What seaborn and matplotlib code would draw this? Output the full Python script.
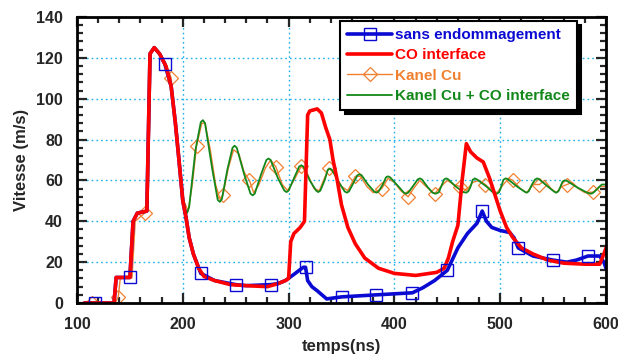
import matplotlib
matplotlib.use('Agg')
import matplotlib.pyplot as plt
from matplotlib.lines import Line2D
from matplotlib.ticker import MultipleLocator
import seaborn as sns

# sans endommagement (blue)
blue_t = [107, 117, 135, 137, 150, 153, 157, 166, 169, 173,
          178, 183, 189, 193, 196, 200, 203, 206, 210, 217,
          230, 250, 260, 283, 290, 297, 301, 305, 310, 314,
          316, 318, 322, 327, 336, 350, 383, 417, 427, 438,
          450, 460, 469, 478, 483, 487, 492, 500, 509, 513,
          517, 531, 550, 563, 572, 583, 594, 598, 600]
blue_v = [0, 0, 0, 12.5, 12.5, 40, 44, 45, 122, 125,
          122, 117, 106, 88, 72, 50, 42, 32, 24, 14.5,
          11, 9, 8.5, 9, 9.5, 11, 12.5, 14, 16, 17.5,
          17.5, 11, 8, 6, 2, 3, 4, 5, 7.5, 11,
          16, 27, 34, 39, 45, 40, 37, 35.5, 34.5, 32,
          27, 23, 21, 20, 21, 23, 23, 20, 17]
blue_marks = [117, 150, 183, 217, 250, 283, 316, 350, 383, 417, 450, 483, 517, 550, 583]

# CO interface (red)
red_t = [107, 135, 137, 150, 153, 157, 166, 169, 173, 178,
         184, 189, 193, 196, 200, 203, 206, 210, 215, 220,
         230, 245, 260, 280, 290, 297, 300, 302, 305, 311,
         315, 318, 320, 327, 331, 335, 339, 342, 346, 350,
         356, 363, 372, 385, 400, 420, 440, 447, 451, 455,
         460, 464, 468, 472, 478, 484, 490, 495, 500, 506,
         512, 520, 531, 545, 560, 580, 594, 598, 600]
red_v = [0, 0, 12.5, 12.5, 40, 44, 45, 122, 125, 122,
         116, 106, 88, 72, 50, 42, 32, 24, 17, 13,
         11, 9, 8.5, 8, 9.5, 11, 12, 30, 34, 37,
         40, 92, 94, 95, 93, 86, 80, 70, 60, 48,
         37, 29, 22, 17, 14.5, 13.5, 15, 17, 22, 30,
         38, 60, 78, 74, 71, 69, 61, 53, 45, 37,
         32, 27, 24, 21, 19.5, 19, 19, 24, 27]

# Kanel Cu (orange)
orange_t = [107, 114, 136, 139, 141, 152, 155, 164, 167, 170,
            174, 179, 185, 189, 193, 197, 201, 205, 209, 213,
            218, 221, 226, 231, 235, 238, 243, 248, 253, 258,
            263, 267, 272, 278, 283, 288, 294, 299, 305, 312,
            318, 324, 329, 333, 338, 344, 350, 356, 363, 368,
            374, 380, 388, 394, 400, 406, 413, 418, 424, 430,
            438, 444, 450, 456, 462, 468, 474, 480, 486, 492,
            497, 503, 508, 512, 519, 525, 531, 537, 542, 548,
            553, 558, 563, 568, 574, 580, 588, 594, 600]
orange_v = [0, 0, 0, 3, 12.5, 12.5, 40, 44, 45, 122,
            125, 122, 116, 110, 88, 70, 50, 45, 58, 77,
            88, 88, 75, 58, 51, 53, 66, 75, 73, 64,
            60, 54, 58, 66, 70, 66.6, 58, 55, 60, 67,
            63, 56, 55, 60, 66, 63, 57, 55, 62, 62,
            57, 54, 56, 61, 59, 55, 52, 56, 60, 57,
            53.5, 57, 60, 58, 57, 55, 59, 60, 58, 55,
            54, 58, 61, 60, 56, 54, 58, 58, 60, 56,
            54, 57, 58, 59, 56, 54, 54.3, 57, 57]
orange_marks = [114, 139, 164, 189, 213, 238, 263, 288, 312, 338,
                363, 388, 413, 438, 462, 486, 512, 537, 563, 588]

# Kanel Cu + CO interface (green)
green_t = [107, 135, 137, 150, 153, 157, 166, 169, 173, 178,
           184, 189, 193, 196, 199, 202, 204, 206, 212, 217,
           219, 221, 228, 233, 235, 237, 242, 247, 249, 251,
           258, 264, 266, 268, 274, 279, 281, 283, 290, 296,
           298, 300, 305, 310, 312, 314, 320, 326, 328, 330,
           334, 337, 339, 341, 347, 353, 355, 357, 361, 365,
           367, 369, 375, 381, 383, 385, 389, 392, 394, 396,
           403, 409, 411, 413, 418, 422, 424, 426, 431, 436,
           439, 442, 445, 447, 449, 451, 458, 465, 468, 470,
           472, 474, 476, 478, 487, 494, 497, 499, 501, 503,
           505, 507, 516, 523, 525, 527, 530, 533, 535, 537,
           545, 551, 553, 555, 557, 559, 561, 563, 573, 583,
           586, 588, 592, 596, 600]
green_v = [0, 0, 12.5, 12.5, 40, 44, 45, 122, 125, 122,
           116, 106, 88, 72, 55, 46, 44, 47, 75, 88.5,
           89.5, 88, 65, 50.5, 49.5, 51, 65, 76, 77, 76,
           63, 53.5, 52.7, 53.5, 63, 70, 70.7, 70, 61, 55,
           54.3, 55, 61, 66.8, 67.4, 66.8, 60, 55, 54.3, 55,
           60, 65.2, 65.8, 65.2, 59.5, 54.6, 54, 54.6, 58.5, 62.5,
           63, 62.5, 58, 54.5, 54, 54.5, 58, 61.5, 62, 61.5,
           57.5, 54, 53.5, 54, 57.5, 60.5, 61, 60.5, 57, 54,
           53.5, 54.2, 58, 60.5, 61, 60.5, 57, 54.3, 54, 54.8,
           57, 60.3, 61, 60.5, 57, 53.8, 53.5, 54.3, 57, 60.3,
           61, 60.7, 57, 54.5, 54, 54.7, 58, 60.5, 61, 60.5,
           57, 54.5, 54, 54.7, 57, 59.5, 60, 59.8, 56.5, 53.8,
           53.5, 54, 56, 58, 58]

labels = ['sans endommagement', 'CO interface', 'Kanel Cu', 'Kanel Cu + CO interface']
c_blue, c_red, c_orange, c_green = '#0a0ad2', '#ff0000', '#f08030', '#12881a'

sns.set_style('ticks')
plt.rcParams['font.family'] = ['Liberation Sans', 'DejaVu Sans']
plt.rcParams['font.weight'] = 'bold'

fig = plt.figure(figsize=(6.18, 3.58), dpi=100)
ax = fig.add_axes([0.1246, 0.1536, 0.856, 0.799])

orange_idx = [i for i, t in enumerate(orange_t) if t in orange_marks]
blue_idx = [i for i, t in enumerate(blue_t) if t in blue_marks]

sns.lineplot(x=orange_t, y=orange_v, ax=ax, estimator=None, sort=False, color=c_orange,
             linewidth=1.0, marker='D', markevery=orange_idx, markersize=7.5,
             markerfacecolor='none', markeredgecolor=c_orange, markeredgewidth=0.9)
sns.lineplot(x=green_t, y=green_v, ax=ax, estimator=None, sort=False, color=c_green, linewidth=1.3)
sns.lineplot(x=blue_t, y=blue_v, ax=ax, estimator=None, sort=False, color=c_blue, linewidth=2.6)
sns.lineplot(x=red_t, y=red_v, ax=ax, estimator=None, sort=False, color=c_red, linewidth=2.6)
# blue squares sit above the red line
sns.lineplot(x=blue_t, y=blue_v, ax=ax, estimator=None, sort=False, color=c_blue, linestyle='none',
             marker='s', markevery=blue_idx, markersize=8.5, markerfacecolor='none',
             markeredgecolor=c_blue, markeredgewidth=1.0)

ax.set_xlim(100, 600)
ax.set_ylim(0, 140)
ax.xaxis.set_major_locator(MultipleLocator(100))
ax.xaxis.set_minor_locator(MultipleLocator(20))
ax.yaxis.set_major_locator(MultipleLocator(20))
ax.yaxis.set_minor_locator(MultipleLocator(4))
ax.grid(True, which='major', color='#1fb0ea', linestyle=(0, (1.2, 2.2)), linewidth=1.0)
ax.set_axisbelow(True)
ax.tick_params(which='both', direction='in', top=True, right=True, width=1.6, labelsize=11.5, pad=10)
ax.tick_params(which='major', length=7)
ax.tick_params(which='minor', length=4)
for s in ax.spines.values():
    s.set_linewidth(2)
    s.set_color('black')

ax.set_xlabel('temps(ns)', fontsize=12, fontweight='bold', labelpad=5)
ax.set_ylabel('Vitesse (m/s)', fontsize=12, fontweight='bold', labelpad=5)

handles = [
    Line2D([], [], color=c_blue, lw=2.6, marker='s', ms=8.5, mfc='none', mec=c_blue, mew=1.0),
    Line2D([], [], color=c_red, lw=2.6),
    Line2D([], [], color=c_orange, lw=1.0, marker='D', ms=7.5, mfc='none', mec=c_orange, mew=0.9),
    Line2D([], [], color=c_green, lw=1.3),
]
leg = ax.legend(handles, labels, loc='upper right', bbox_to_anchor=(577 / 618, 1 - 21 / 358),
                bbox_transform=fig.transFigure, borderaxespad=0,
                labelcolor=[c_blue, c_red, c_orange, c_green], prop={'weight': 'bold', 'size': 11},
                handlelength=2.95, handletextpad=0.2, labelspacing=0.42, borderpad=0.45,
                fancybox=False, framealpha=1, edgecolor='black',
                shadow={'ox': 3, 'oy': -3, 'color': 'black', 'alpha': 1})
leg.get_frame().set_linewidth(1.5)

fig.savefig('out.png', dpi=100)
